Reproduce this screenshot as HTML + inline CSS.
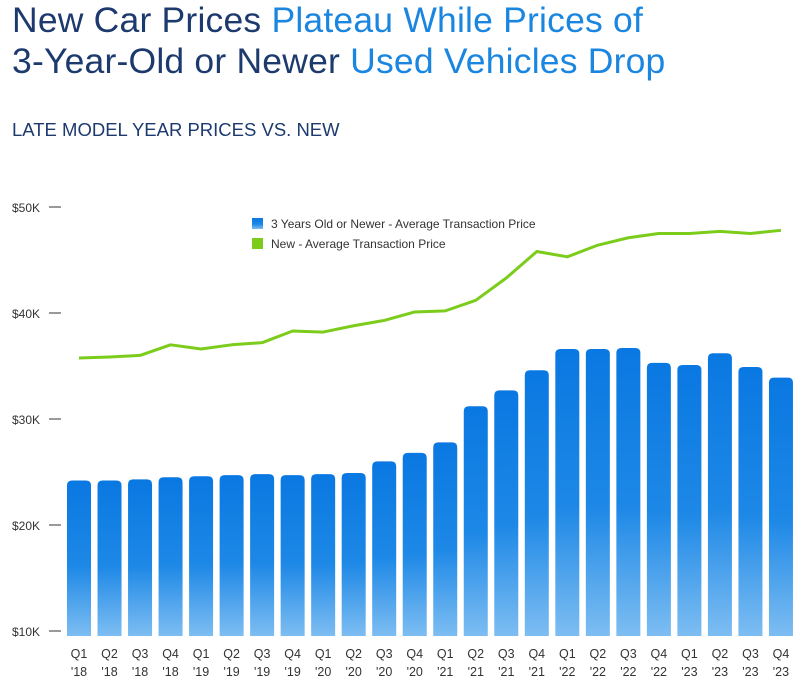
<!DOCTYPE html>
<html><head><meta charset="utf-8"><style>
body{margin:0;background:#fff;font-family:"Liberation Sans",sans-serif;}
#wrap{position:relative;width:809px;height:687px;overflow:hidden;}
.t{position:absolute;left:12px;font-size:35.5px;line-height:40px;color:#1d3a6e;white-space:nowrap;letter-spacing:0.2px;}
.t span{color:#1a86e0;}
</style></head><body>
<div id="wrap">
<div class="t" style="top:0px">New Car Prices <span>Plateau While Prices of</span></div>
<div class="t" style="top:41px">3-Year-Old or Newer <span>Used Vehicles Drop</span></div>
<div style="position:absolute;left:12px;top:119px;font-size:18.5px;color:#1d3a6e;">LATE MODEL YEAR PRICES VS. NEW</div>
<svg id="svg" width="809" height="687" style="position:absolute;left:0;top:0">
<defs><linearGradient id="g" x1="0" y1="0" x2="0" y2="1">
<stop offset="0" stop-color="#0a78e2"/><stop offset="0.55" stop-color="#1d88e6"/><stop offset="1" stop-color="#7dbdf2"/></linearGradient></defs>
</svg>
</div>
<script>
const categories=["Q1|'18","Q2|'18","Q3|'18","Q4|'18","Q1|'19","Q2|'19","Q3|'19","Q4|'19","Q1|'20","Q2|'20","Q3|'20","Q4|'20","Q1|'21","Q2|'21","Q3|'21","Q4|'21","Q1|'22","Q2|'22","Q3|'22","Q4|'22","Q1|'23","Q2|'23","Q3|'23","Q4|'23"];
const usedValues=[24.2,24.2,24.3,24.5,24.6,24.7,24.8,24.7,24.8,24.9,26.0,26.8,27.8,31.2,32.7,34.6,36.6,36.6,36.7,35.3,35.1,36.2,34.9,33.9];
const newValues=[35.75,35.85,36.0,37.0,36.6,37.0,37.2,38.3,38.2,38.8,39.3,40.1,40.2,41.2,43.3,45.8,45.3,46.4,47.1,47.5,47.5,47.7,47.5,47.8];
const yTicks=[10,20,30,40,50];
const yTickLabels=["$10K","$20K","$30K","$40K","$50K"];
const svg=document.getElementById('svg');const NS='http://www.w3.org/2000/svg';
function y(v){return 631-(v-10)*10.6;}
function x(i){return 79+i*30.52;}
function mk(t,a,p){const e=document.createElementNS(NS,t);for(const k in a)e.setAttribute(k,a[k]);(p||svg).appendChild(e);return e;}
yTicks.forEach((v,i)=>{
 const t=mk('text',{x:12,y:y(v)+5,'font-size':12,fill:'#333'});t.textContent=yTickLabels[i];
 
 
 mk('line',{x1:49,x2:61,y1:y(v),y2:y(v),stroke:'#333','stroke-width':1});
});
const bw=24,bottom=636;
usedValues.forEach((v,i)=>{
 const top=y(v),x0=x(i)-bw/2,r=5;
 const p=mk('path',{d:`M${x0},${bottom}V${top+r}Q${x0},${top} ${x0+r},${top}H${x0+bw-r}Q${x0+bw},${top} ${x0+bw},${top+r}V${bottom}Z`,fill:'url(#g)'});
 
 
 const parts=categories[i].split('|');
 const t1=mk('text',{x:x(i),y:658,'text-anchor':'middle','font-size':12.5,fill:'#333'});t1.textContent=parts[0];
 
 
 const t2=mk('text',{x:x(i),y:676,'text-anchor':'middle','font-size':12.5,fill:'#333'});t2.textContent=parts[1];
 
 
});
const ln=mk('polyline',{points:newValues.map((v,i)=>x(i)+','+y(v)).join(' '),fill:'none',stroke:'#7ccc1c','stroke-width':3,'stroke-linejoin':'round'});


const l1=mk('rect',{x:252,y:218,width:11,height:11,fill:'url(#g)'});


const lt1=mk('text',{x:271,y:228,'font-size':12,fill:'#333'});lt1.textContent='3 Years Old or Newer - Average Transaction Price';


const l2=mk('rect',{x:252,y:238,width:11,height:11,fill:'#7ccc1c'});


const lt2=mk('text',{x:271,y:248,'font-size':12,fill:'#333'});lt2.textContent='New - Average Transaction Price';


</script>
</body></html>
